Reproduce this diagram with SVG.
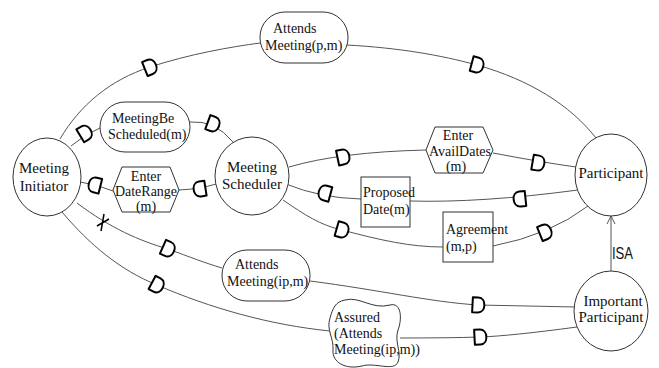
<svg xmlns="http://www.w3.org/2000/svg" width="659" height="368" viewBox="0 0 659 368">
<style>
.n{fill:#fff;stroke:#333;stroke-width:1}
.t{font-family:"Liberation Serif","Times New Roman",serif;font-size:14px;fill:#111}
.c{text-anchor:middle}
.big{font-size:15px}
.l{fill:none;stroke:#555;stroke-width:1}
.d{fill:#fff;stroke:#000;stroke-width:2;stroke-linejoin:round}
</style>
<defs>
<path id="D" class="d" d="M -5.5,-7.5 L -5.5,7.5 L 0,7.5 C 8.5,7.5 8.5,-7.5 0,-7.5 Z"/>
</defs>
<g id="connectors">
<path class="l" d="M 60,139 C 80,105 110,80 150,67 C 190,54 230,47 260,43"/>
<path class="l" d="M 347,45 C 400,48 440,55 477,65 C 530,80 570,105 596,138"/>
<path class="l" d="M 71,146 Q 85,134 100,128"/>
<path class="l" d="M 190,122 Q 215,120 233,142"/>
<path class="l" d="M 80,182 Q 96,184 113,191"/>
<path class="l" d="M 179,190 Q 200,189 216,184"/>
<path class="l" d="M 289,167 Q 340,152 426,150"/>
<path class="l" d="M 493,153 Q 540,162 576,167"/>
<path class="l" d="M 286,184 Q 320,198 361,199"/>
<path class="l" d="M 410,201 Q 480,203 578,190"/>
<path class="l" d="M 283,200 C 305,215 320,225 342,230 C 380,240 410,247 443,247"/>
<path class="l" d="M 493,246 Q 550,235 588,206"/>
<path class="l" d="M 77,203 C 110,228 140,241 168,249 C 190,257 205,263 222,268"/>
<path class="l" d="M 310,281 C 380,290 430,302 478,305 L 576,307"/>
<path class="l" d="M 62,212 C 90,245 120,270 157,285 C 210,308 270,325 330,331"/>
<path class="l" d="M 400,338 Q 450,338 480,337 T 577,327"/>
<path class="l" d="M 611,271 L 611,216 M 607,224 L 611,216 L 615,224"/>
<path fill="none" stroke="#000" stroke-width="1.5" d="M 104,214 L 101,231 M 97,226 L 109,219"/>
<use href="#D" transform="translate(150,67) rotate(-22)"/>
<use href="#D" transform="translate(477,65) rotate(15)"/>
<use href="#D" transform="translate(85,133) rotate(-31)"/>
<use href="#D" transform="translate(213,124) rotate(20)"/>
<use href="#D" transform="translate(95,185) rotate(194)"/>
<use href="#D" transform="translate(200,189) rotate(171)"/>
<use href="#D" transform="translate(343,157) rotate(-12)"/>
<use href="#D" transform="translate(538,163) rotate(10)"/>
<use href="#D" transform="translate(325,193) rotate(195)"/>
<use href="#D" transform="translate(520,199) rotate(174)"/>
<use href="#D" transform="translate(342,230) rotate(16)"/>
<use href="#D" transform="translate(545,232) rotate(-22)"/>
<use href="#D" transform="translate(168,249) rotate(24)"/>
<use href="#D" transform="translate(157,285) rotate(28)"/>
<use href="#D" transform="translate(478,305) rotate(3)"/>
<use href="#D" transform="translate(480,337) rotate(-3)"/>
</g>
<g id="meeting-initiator">
<ellipse class="n" cx="47" cy="177" rx="34" ry="39"/>
<text class="t c big" x="44" y="173">Meeting</text>
<text class="t c big" x="44" y="191">Initiator</text>
</g>
<g id="meeting-scheduler">
<ellipse class="n" cx="252" cy="176" rx="37" ry="39"/>
<text class="t c big" x="252" y="172">Meeting</text>
<text class="t c big" x="252" y="189">Scheduler</text>
</g>
<g id="participant">
<ellipse class="n" cx="611" cy="175" rx="36" ry="41"/>
<text class="t c big" x="611" y="178">Participant</text>
</g>
<g id="important-participant">
<ellipse class="n" cx="611" cy="311" rx="37" ry="40"/>
<text class="t c big" x="613" y="306">Important</text>
<text class="t c big" x="611" y="322">Participant</text>
</g>
<g id="isa-label">
<text x="612" y="259" font-family="Liberation Sans, Arial, sans-serif" font-size="17" textLength="21" lengthAdjust="spacingAndGlyphs" fill="#111">ISA</text>
</g>
<g id="attends-meeting-pm">
<rect class="n" x="260" y="12" width="88" height="51" rx="25"/>
<text class="t" x="273" y="33">Attends</text>
<text class="t" x="265" y="50">Meeting(p,m)</text>
</g>
<g id="meeting-be-scheduled">
<rect class="n" x="100" y="102" width="90" height="50" rx="25"/>
<text class="t" x="112" y="123">MeetingBe</text>
<text class="t" x="108" y="139">Scheduled(m)</text>
</g>
<g id="enter-daterange">
<polygon class="n" points="113,190 122,167 170,167 179,190 170,212 122,212"/>
<text class="t c" x="146" y="181">Enter</text>
<text class="t c" x="146" y="196">DateRange</text>
<text class="t c" x="146" y="211">(m)</text>
</g>
<g id="enter-availdates">
<polygon class="n" points="426,150 435,127 483,127 493,150 483,173 435,173"/>
<text class="t c" x="458" y="140">Enter</text>
<text class="t c" x="460" y="156">AvailDates</text>
<text class="t c" x="456" y="171">(m)</text>
</g>
<g id="proposed-date">
<rect class="n" x="361" y="177" width="49" height="50"/>
<text class="t" x="363" y="197">Proposed</text>
<text class="t" x="363" y="214">Date(m)</text>
</g>
<g id="agreement">
<rect class="n" x="443" y="212" width="50" height="50"/>
<text class="t" x="446" y="234">Agreement</text>
<text class="t" x="446" y="251">(m,p)</text>
</g>
<g id="attends-meeting-ipm">
<rect class="n" x="222" y="250" width="88" height="51" rx="25"/>
<text class="t" x="235" y="269">Attends</text>
<text class="t" x="227" y="286">Meeting(ip,m)</text>
</g>
<g id="assured">
<path class="n" d="M 345,300 C 360,296 372,310 390,305 C 402,302 402,320 398,330 C 394,342 402,352 398,362 C 394,372 375,362 362,366 C 345,370 332,362 333,350 C 334,338 326,330 330,318 C 333,308 335,302 345,300 Z"/>
<text class="t" x="334" y="322">Assured</text>
<text class="t" x="334" y="338">(Attends</text>
<text class="t" x="334" y="354">Meeting(ip,m))</text>
</g>
</svg>
